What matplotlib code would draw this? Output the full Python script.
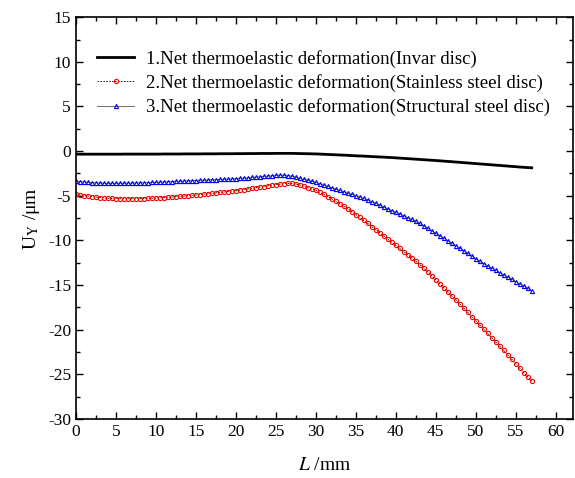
import numpy as np
import matplotlib
matplotlib.use("Agg")
import matplotlib.pyplot as plt
from matplotlib.ticker import MultipleLocator

plt.rcParams["font.family"] = ["Liberation Serif", "DejaVu Serif"]
plt.rcParams["mathtext.fontset"] = "stix"
plt.rcParams["axes.unicode_minus"] = False

# positions along the disc, mm (0.5 mm steps)
L = np.arange(0, 57.01, 0.5)

invar = [
    -0.34, -0.34, -0.34, -0.34, -0.34, -0.34, -0.34, -0.34, -0.34, -0.34,
    -0.34, -0.34, -0.33, -0.33, -0.33, -0.33, -0.33, -0.33, -0.33, -0.33,
    -0.33, -0.33, -0.32, -0.32, -0.32, -0.32, -0.32, -0.31, -0.31, -0.31,
    -0.31, -0.31, -0.30, -0.30, -0.30, -0.30, -0.29, -0.29, -0.29, -0.29,
    -0.28, -0.28, -0.28, -0.27, -0.27, -0.27, -0.26, -0.26, -0.26, -0.26,
    -0.25, -0.25, -0.25, -0.25, -0.25, -0.26, -0.27, -0.28, -0.29, -0.30,
    -0.31, -0.33, -0.35, -0.37, -0.39, -0.41, -0.43, -0.45, -0.47, -0.50,
    -0.52, -0.54, -0.56, -0.58, -0.61, -0.63, -0.65, -0.67, -0.70, -0.72,
    -0.75, -0.78, -0.81, -0.84, -0.87, -0.90, -0.93, -0.96, -0.99, -1.02,
    -1.05, -1.08, -1.12, -1.15, -1.18, -1.22, -1.25, -1.29, -1.32, -1.36,
    -1.39, -1.43, -1.46, -1.50, -1.53, -1.57, -1.60, -1.64, -1.67, -1.71,
    -1.74, -1.78, -1.81, -1.84, -1.87,
]

stainless = [
    -4.85, -4.92, -4.98, -5.04, -5.10, -5.15, -5.20, -5.24, -5.27, -5.30,
    -5.32, -5.33, -5.34, -5.34, -5.34, -5.33, -5.32, -5.31, -5.29, -5.27,
    -5.25, -5.23, -5.20, -5.17, -5.14, -5.11, -5.07, -5.03, -4.99, -4.95,
    -4.91, -4.87, -4.82, -4.78, -4.73, -4.68, -4.63, -4.58, -4.53, -4.48,
    -4.42, -4.36, -4.30, -4.24, -4.17, -4.10, -4.03, -3.96, -3.89, -3.82,
    -3.76, -3.70, -3.65, -3.62, -3.62, -3.68, -3.80, -3.94, -4.10, -4.25,
    -4.40, -4.62, -4.85, -5.10, -5.35, -5.62, -5.90, -6.17, -6.45, -6.77,
    -7.10, -7.42, -7.75, -8.10, -8.45, -8.80, -9.15, -9.50, -9.85, -10.20,
    -10.55, -10.90, -11.25, -11.60, -11.95, -12.32, -12.70, -13.10, -13.50, -13.95,
    -14.40, -14.85, -15.30, -15.75, -16.20, -16.65, -17.10, -17.58, -18.05, -18.52,
    -19.00, -19.48, -19.95, -20.42, -20.90, -21.38, -21.85, -22.32, -22.80, -23.30,
    -23.80, -24.30, -24.80, -25.28, -25.75,
]

structural = [
    -3.36, -3.41, -3.45, -3.49, -3.52, -3.55, -3.57, -3.59, -3.60, -3.60,
    -3.60, -3.60, -3.59, -3.58, -3.57, -3.56, -3.55, -3.54, -3.52, -3.51,
    -3.49, -3.47, -3.45, -3.43, -3.41, -3.39, -3.37, -3.35, -3.33, -3.31,
    -3.29, -3.27, -3.25, -3.23, -3.21, -3.19, -3.17, -3.15, -3.13, -3.11,
    -3.08, -3.05, -3.02, -2.99, -2.95, -2.91, -2.87, -2.83, -2.79, -2.75,
    -2.72, -2.70, -2.70, -2.73, -2.80, -2.92, -3.06, -3.15, -3.25, -3.37,
    -3.50, -3.65, -3.80, -3.95, -4.10, -4.25, -4.40, -4.55, -4.70, -4.83,
    -4.97, -5.12, -5.30, -5.47, -5.65, -5.85, -6.05, -6.25, -6.45, -6.65,
    -6.85, -7.05, -7.25, -7.45, -7.65, -7.87, -8.10, -8.37, -8.65, -8.92,
    -9.20, -9.47, -9.75, -10.02, -10.30, -10.58, -10.86, -11.15, -11.45, -11.75,
    -12.05, -12.33, -12.60, -12.85, -13.10, -13.35, -13.60, -13.85, -14.10, -14.35,
    -14.60, -14.85, -15.10, -15.37, -15.64,
]

labels = [
    "1.Net thermoelastic deformation(Invar disc)",
    "2.Net thermoelastic deformation(Stainless steel disc)",
    "3.Net thermoelastic deformation(Structural steel disc)",
]

fig = plt.figure(figsize=(5.75, 4.78), dpi=100)
ax = fig.add_axes([0.132, 0.1234, 0.865, 0.8406])

ax.plot(L, invar, color="black", lw=2.0, label=labels[0])
ax.plot(L, stainless, color="black", lw=0.6, ls=(0, (2, 1.5)),
        marker="o", ms=3.0, mfc="none", mec="red", mew=0.8, label=labels[1])
ax.plot(L, structural, color="#555555", lw=0.6,
        marker="^", ms=3.0, mfc="none", mec="blue", mew=0.8, label=labels[2])

ax.set_xlim(0, 62.2)
ax.set_ylim(-30, 15)
ax.xaxis.set_major_locator(MultipleLocator(5))
ax.xaxis.set_minor_locator(MultipleLocator(2.5))
ax.yaxis.set_major_locator(MultipleLocator(5))
ax.yaxis.set_minor_locator(MultipleLocator(2.5))
ax.tick_params(which="both", direction="in", top=True, right=True, labelsize=12.5)
ax.tick_params(which="major", length=5, width=1)
ax.tick_params(which="minor", length=3, width=1)
for s in ax.spines.values():
    s.set_linewidth(1.2)

ax.set_xlabel("$L$ /mm", fontsize=14, labelpad=12)
ax.set_ylabel("U$_\\mathrm{Y}$ /μm", fontsize=14, labelpad=4)

ax.legend(loc="upper left", bbox_to_anchor=(0.027, 0.937), frameon=False,
          fontsize=13.5, handlelength=2.0, handletextpad=0.6, labelspacing=0.33,
          borderaxespad=0.0)

fig.savefig("out.png", dpi=100)
